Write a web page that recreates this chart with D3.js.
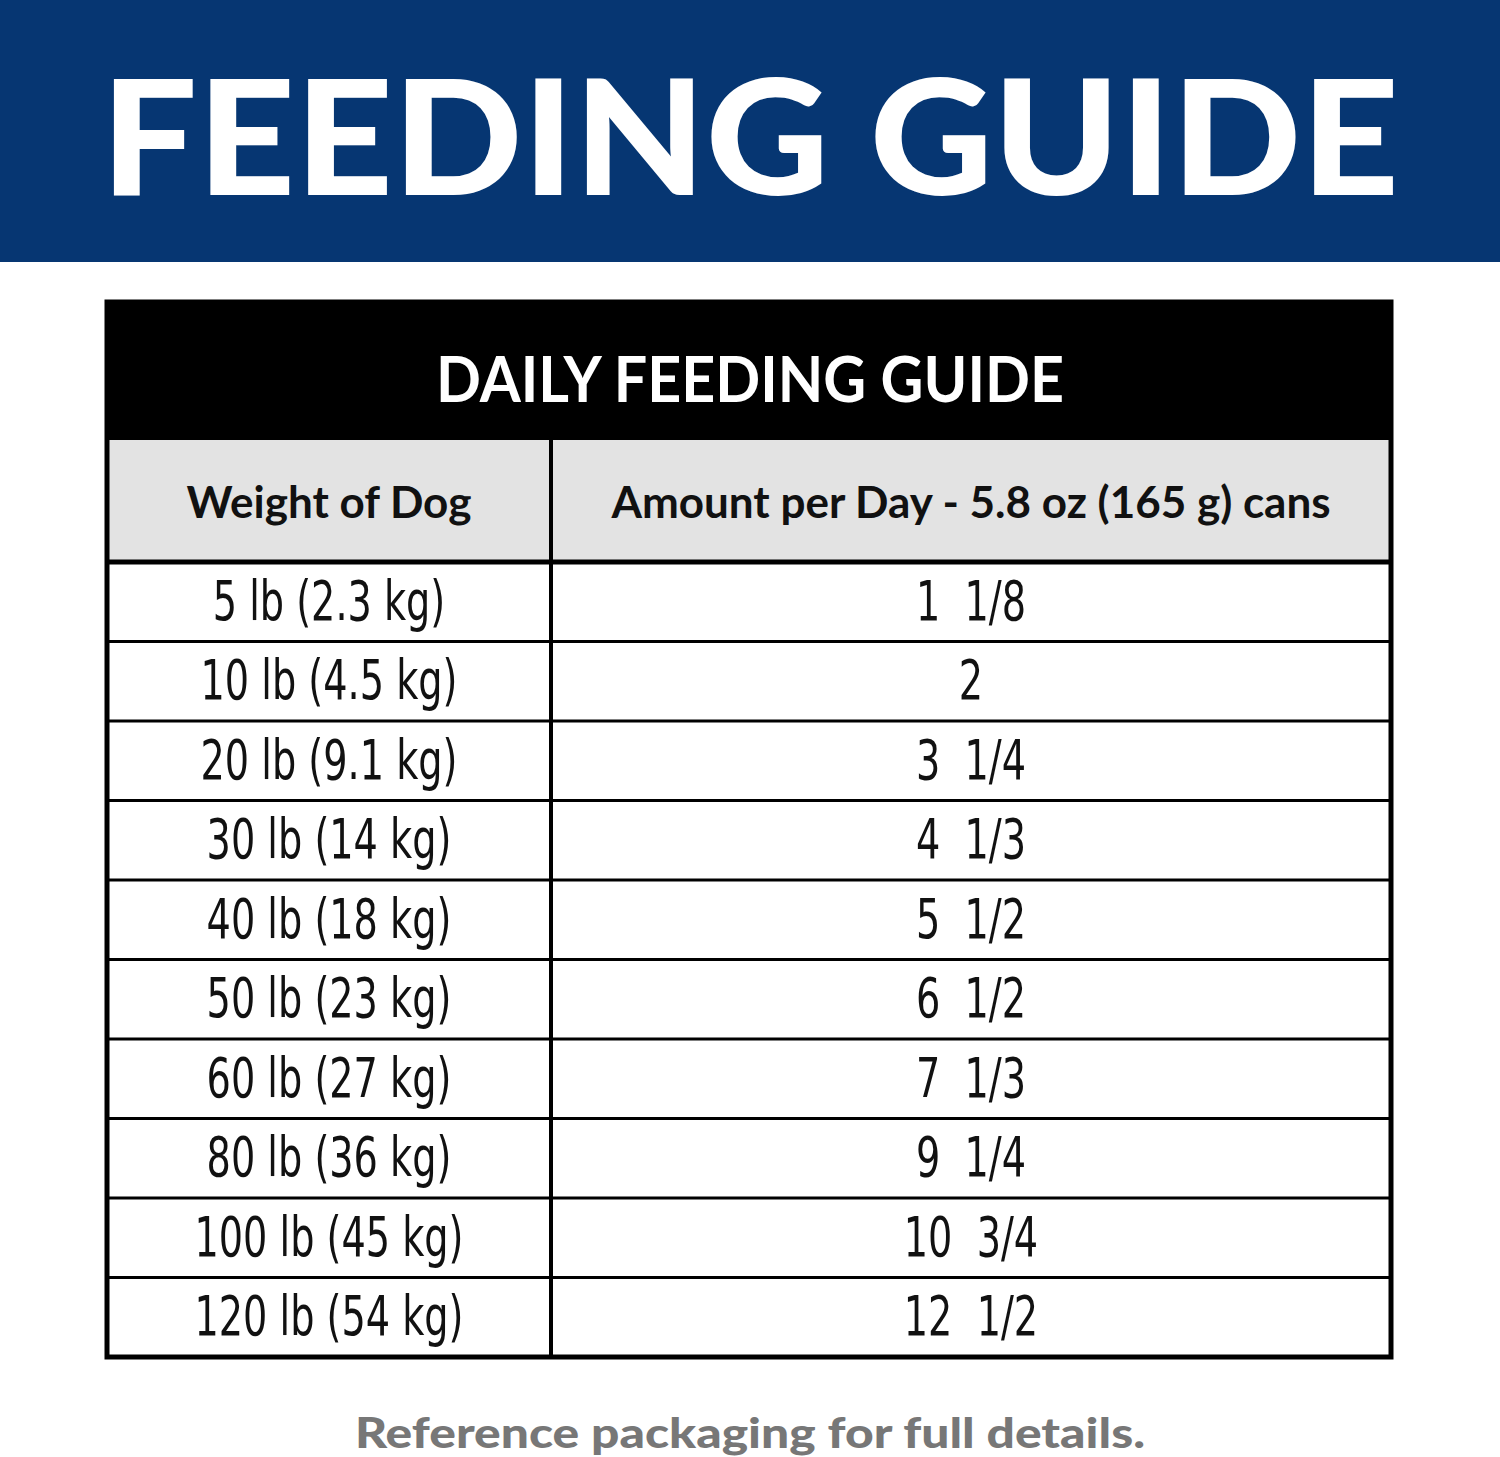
<!DOCTYPE html>
<html><head><meta charset="utf-8">
<script src="https://cdn.jsdelivr.net/npm/d3@7.9.0/dist/d3.min.js"></script>
<style>body{margin:0;background:#fff}svg{display:block}text{white-space:pre}</style>
</head><body>
<svg id="c" width="1500" height="1457"></svg>
<script>
const title = 'FEEDING GUIDE';
const tableTitle = 'DAILY FEEDING GUIDE';
const headers = ['Weight of Dog', 'Amount per Day - 5.8 oz (165 g) cans'];
const weights = ['5 lb (2.3 kg)', '10 lb (4.5 kg)', '20 lb (9.1 kg)', '30 lb (14 kg)', '40 lb (18 kg)',
  '50 lb (23 kg)', '60 lb (27 kg)', '80 lb (36 kg)', '100 lb (45 kg)', '120 lb (54 kg)'];
const amounts = ['1  1/8', '2', '3  1/4', '4  1/3', '5  1/2', '6  1/2', '7  1/3', '9  1/4', '10  3/4', '12  1/2'];
const footer = 'Reference packaging for full details.';

const svg = d3.select('#c');
const L = 107, R = 1391, split = 551;

svg.append('rect').attr('width', 1500).attr('height', 262).attr('fill', '#063672');
svg.append('text').attr('x', 750).attr('y', 195).attr('text-anchor', 'middle')
  .attr('font-family', 'Lato').attr('font-weight', 900).attr('font-size', 160)
  .attr('textLength', 1298).attr('lengthAdjust', 'spacingAndGlyphs')
  .attr('fill', '#fff').text(title);

svg.append('rect').attr('x', L).attr('y', 302).attr('width', R - L).attr('height', 138).attr('fill', '#000');
svg.append('text').attr('x', 750).attr('y', 402).attr('text-anchor', 'middle')
  .attr('font-family', 'Lato').attr('font-weight', 700).attr('font-size', 64)
  .attr('textLength', 628).attr('lengthAdjust', 'spacingAndGlyphs')
  .attr('fill', '#fff').text(tableTitle);

svg.append('rect').attr('x', L).attr('y', 440).attr('width', R - L).attr('height', 122).attr('fill', '#e3e3e3');
const colX = [(L + split) / 2, (split + R) / 2];
svg.selectAll('.h').data(headers).join('text')
  .attr('x', (d, i) => colX[i]).attr('y', 518).attr('text-anchor', 'middle')
  .attr('font-family', 'Lato').attr('font-weight', 700).attr('font-size', 44)
  .attr('fill', '#111').text(d => d);

const y = d3.scaleBand().domain(d3.range(weights.length)).range([562, 1357]);
const rows = svg.selectAll('.r').data(weights).join('g');
rows.append('line').attr('x1', L).attr('x2', R)
  .attr('y1', (d, i) => y(i)).attr('y2', (d, i) => y(i))
  .attr('stroke', '#000').attr('stroke-width', (d, i) => i === 0 ? 5 : 3);
const cond = t => t.attr('text-anchor', 'middle').attr('font-family', 'Liberation Sans Narrow, DejaVu Sans Condensed, sans-serif')
  .attr('font-size', 50).attr('fill', '#111');
rows.append('text').attr('x', colX[0]).attr('y', (d, i) => y(i) + y.bandwidth() / 2 + 18).call(cond)
  .attr('transform', (d, i) => `translate(${colX[0]},0) scale(0.85,1.1) translate(${-colX[0]},${-(y(i) + y.bandwidth() / 2 + 18) * 0.1 / 1.1})`)
  .text(d => d);
rows.append('text').attr('x', colX[1]).attr('y', (d, i) => y(i) + y.bandwidth() / 2 + 18).call(cond)
  .attr('transform', (d, i) => `translate(${colX[1]},0) scale(0.85,1.1) translate(${-colX[1]},${-(y(i) + y.bandwidth() / 2 + 18) * 0.1 / 1.1})`)
  .text((d, i) => amounts[i]);

svg.append('line').attr('x1', split).attr('x2', split).attr('y1', 440).attr('y2', 1357)
  .attr('stroke', '#000').attr('stroke-width', 4);
svg.append('rect').attr('x', L).attr('y', 302).attr('width', R - L).attr('height', 1055)
  .attr('fill', 'none').attr('stroke', '#000').attr('stroke-width', 5);

svg.append('text').attr('x', 750).attr('y', 1448).attr('text-anchor', 'middle')
  .attr('font-family', 'Lato').attr('font-weight', 900).attr('font-size', 42)
  .attr('textLength', 790).attr('lengthAdjust', 'spacingAndGlyphs')
  .attr('fill', '#777').text(footer);
</script>
</body></html>
